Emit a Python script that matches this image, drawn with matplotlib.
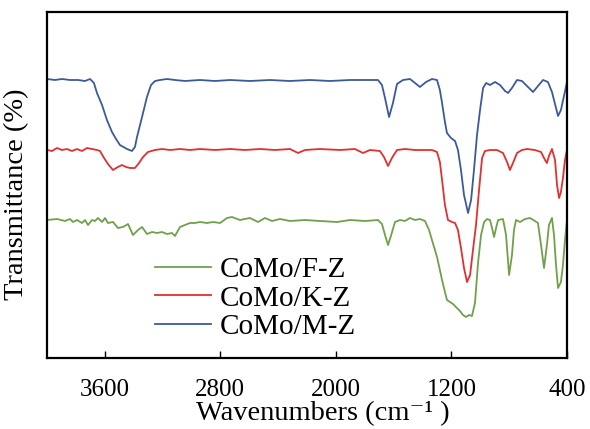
import matplotlib
matplotlib.use("Agg")
import matplotlib.pyplot as plt

plt.rcParams["font.family"] = ["Liberation Serif", "DejaVu Serif"]

# FTIR spectra (wavenumber in cm-1, transmittance in offset arbitrary units)
wn_m = [4000, 3945, 3896, 3841, 3785, 3737, 3702, 3675, 3654, 3619, 3585, 3550, 3522, 3495,
        3446, 3412, 3391, 3377, 3342, 3308, 3280, 3252, 3218, 3169, 3114, 3045, 2941, 2837,
        2733, 2595, 2456, 2318, 2179, 2041, 1902, 1764, 1709, 1681, 1660, 1632, 1605, 1577,
        1535, 1487, 1452, 1418, 1376, 1335, 1300, 1280, 1265, 1245, 1231, 1203, 1175, 1155,
        1134, 1113, 1085, 1064, 1044, 1023, 1002, 981, 960, 933, 898, 864, 829, 808, 781,
        746, 712, 677, 635, 601, 566, 532, 504, 483, 462, 442, 421, 400]
t_m = [279, 278, 279, 278, 278, 277, 279, 275, 265, 253, 238, 226, 219, 213,
       209, 207, 211, 221, 241, 261, 273, 277, 278, 279, 278, 277, 278, 277,
       278, 277, 278, 277, 278, 277, 278, 278, 278, 273, 260, 241, 255, 274,
       278, 279, 275, 271, 276, 279, 278, 268, 255, 236, 225, 220, 217, 208,
       188, 163, 145, 158, 188, 223, 248, 270, 275, 273, 276, 273, 267, 265, 270,
       278, 277, 272, 266, 272, 278, 276, 266, 254, 242, 248, 262, 276]

wn_k = [4000, 3965, 3931, 3896, 3862, 3827, 3792, 3758, 3723, 3688, 3654, 3633, 3605, 3578,
        3543, 3509, 3481, 3453, 3425, 3391, 3363, 3335, 3301, 3252, 3204, 3148, 3079, 3010,
        2941, 2837, 2733, 2629, 2525, 2422, 2318, 2262, 2214, 2110, 1972, 1868, 1812, 1764,
        1695, 1667, 1639, 1612, 1577, 1522, 1452, 1383, 1335, 1300, 1280, 1265, 1245, 1224,
        1196, 1175, 1155, 1134, 1113, 1092, 1071, 1051, 1030, 1009, 988, 968, 933, 885,
        843, 815, 795, 774, 746, 712, 677, 622, 580, 552, 539, 525, 504, 483, 469, 455,
        442, 428, 414, 400]
t_k = [208, 207, 210, 208, 209, 207, 209, 207, 210, 209, 208, 207, 200, 194,
       188, 191, 193, 191, 190, 190, 195, 201, 206, 208, 209, 208, 209, 208,
       209, 208, 209, 208, 209, 208, 209, 205, 208, 209, 208, 209, 205, 208,
       207, 201, 192, 200, 208, 209, 208, 208, 208, 206, 196, 178, 153, 138,
       136, 135, 128, 110, 90, 76, 83, 108, 133, 168, 200, 207, 208, 208,
       205, 196, 188, 195, 205, 208, 209, 208, 206, 198, 195, 202, 209, 198, 173, 160,
       166, 180, 198, 208]

wn_f = [4000, 3931, 3875, 3841, 3820, 3792, 3758, 3737, 3716, 3688, 3668, 3647, 3619, 3598,
        3578, 3543, 3509, 3474, 3439, 3405, 3370, 3342, 3308, 3273, 3238, 3204, 3169, 3135,
        3114, 3079, 3045, 3010, 2975, 2941, 2892, 2851, 2802, 2754, 2719, 2664, 2595, 2539,
        2491, 2442, 2387, 2318, 2214, 2110, 1992, 1902, 1798, 1709, 1681, 1660, 1639, 1619,
        1591, 1556, 1522, 1487, 1452, 1418, 1383, 1355, 1335, 1314, 1300, 1280, 1265, 1245,
        1231, 1210, 1189, 1162, 1141, 1120, 1099, 1078, 1058, 1037, 1016, 995, 974, 953,
        933, 919, 905, 891, 877, 843, 822, 801, 781, 767, 753, 725, 691, 656, 622, 601,
        580, 559, 539, 525, 504, 490, 476, 462, 442, 428, 414, 400]
t_f = [138, 139, 137, 139, 136, 138, 135, 138, 133, 138, 137, 140, 136, 140,
       135, 136, 130, 131, 134, 123, 128, 131, 124, 126, 125, 126, 124, 125,
       122, 131, 133, 135, 135, 136, 135, 136, 135, 140, 141, 138, 140, 136,
       140, 137, 139, 137, 138, 137, 136, 138, 137, 138, 134, 123, 113, 122,
       136, 138, 137, 140, 138, 139, 137, 128, 118, 108, 101, 88, 78, 66,
       58, 56, 54, 50, 47, 43, 41, 43, 42, 55, 95, 123, 136, 139,
       138, 130, 121, 130, 138, 139, 123, 83, 103, 128, 138, 136, 139, 140, 137, 135,
       113, 90, 113, 133, 140, 123, 93, 70, 76, 93, 118, 138]

labels = ["CoMo/F-Z", "CoMo/K-Z", "CoMo/M-Z"]
colors = ["#70a04a", "#e0302f", "#3c5a99"]
xticks = [3600, 2800, 2000, 1200, 400]

fig = plt.figure(figsize=(5.9, 4.29), dpi=100)
ax = fig.add_axes([47 / 590, 71 / 429, 520 / 590, 346 / 429])

for wn, t, lab, col in zip([wn_f, wn_k, wn_m], [t_f, t_k, t_m], labels, colors):
    ax.plot(wn, t, color=col, lw=1.3, label=lab)

ax.set_xlim(4000, 400)
ax.set_ylim(0, 346)
ax.set_xticks(xticks)
ax.set_xticklabels([str(v) for v in xticks])
ax.set_yticks([])
ax.tick_params(axis="x", direction="in", length=5, width=1, labelsize=18, pad=15)
for s in ax.spines.values():
    s.set_linewidth(1.6)

ax.set_xlabel("Wavenumbers (cm\u207b\u00b9 )", fontsize=20.5)
ax.xaxis.set_label_coords(0.531, -0.125)
ax.set_ylabel("Transmittance (%)", fontsize=20.5)
ax.yaxis.set_label_coords(-0.035, 0.474)

leg = ax.legend(loc="upper left", bbox_to_anchor=(155 / 590, 1 - 257 / 429),
                bbox_transform=fig.transFigure, frameon=False, fontsize=21,
                handlelength=1.93, handletextpad=0.3, labelspacing=0.06,
                borderpad=0, borderaxespad=0)

fig.savefig("out.png", dpi=100)
